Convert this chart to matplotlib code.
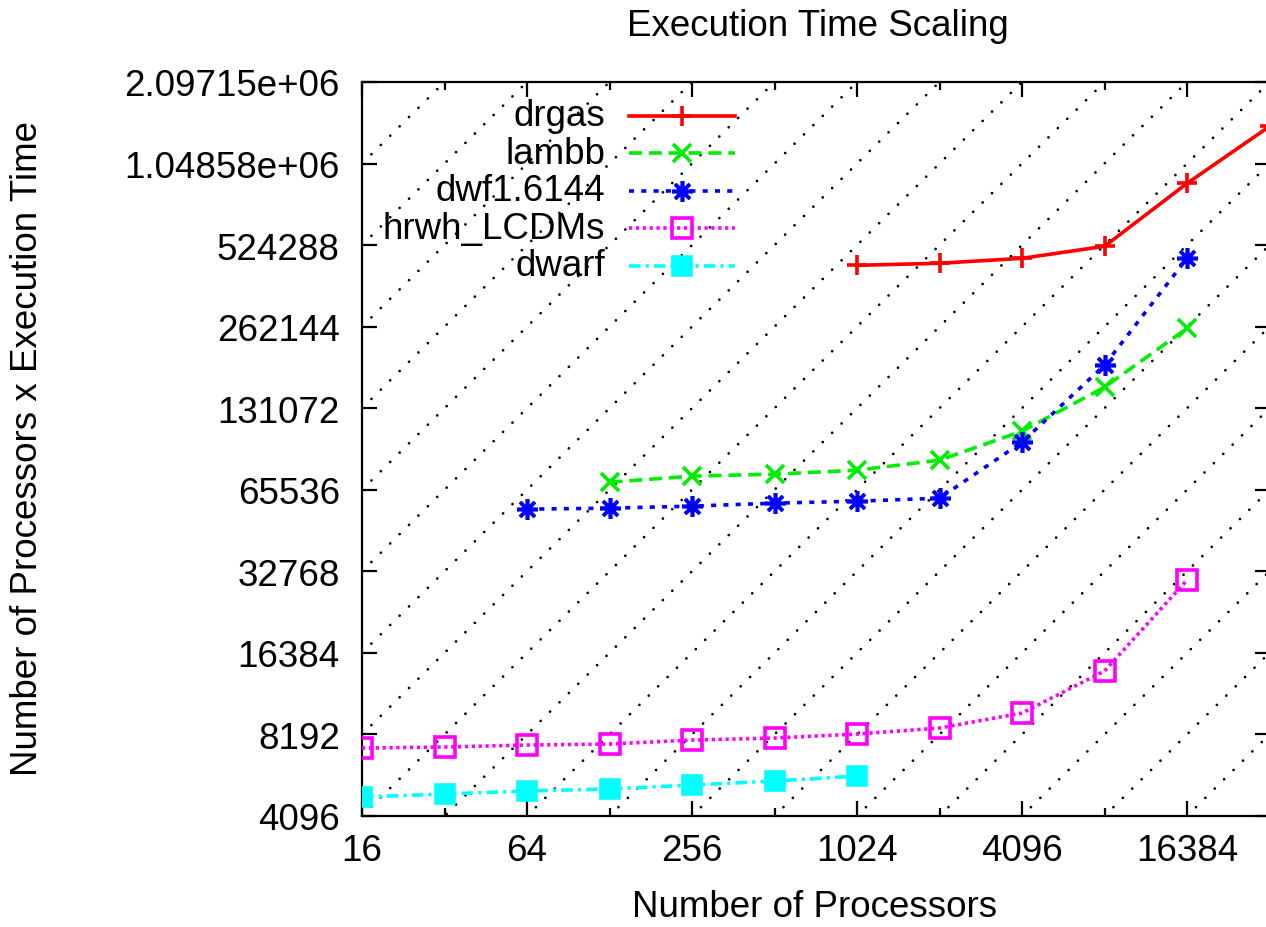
import matplotlib
matplotlib.use("Agg")
import matplotlib.pyplot as plt
from matplotlib.lines import Line2D
from matplotlib.ticker import FixedLocator, FixedFormatter, NullFormatter

plt.rcParams['font.family'] = ['Liberation Sans', 'DejaVu Sans']

# Processor counts and (processors x execution time) per run
drgas_procs = [1024, 2048, 4096, 8192, 16384, 32768]
drgas_cost = [441500, 449300, 468600, 518900, 886000, 1438000]

lambb_procs = [128, 256, 512, 1024, 2048, 4096, 8192, 16384]
lambb_cost = [69900, 73570, 74830, 77400, 84300, 107800, 156700, 258500]

dwf_procs = [64, 128, 256, 512, 1024, 2048, 4096, 8192, 16384]
dwf_cost = [55580, 56070, 57030, 58490, 59480, 61020, 98200, 188900, 468600]

hrwh_procs = [16, 32, 64, 128, 256, 512, 1024, 2048, 4096, 8192, 16384]
hrwh_cost = [7298, 7360, 7487, 7550, 7810, 7946, 8220, 8650, 9826, 14040, 30400]

dwarf_procs = [16, 32, 64, 128, 256, 512, 1024]
dwarf_cost = [4812, 4938, 5067, 5153, 5330, 5514, 5753]

x_major = [16, 64, 256, 1024, 4096, 16384]
x_minor = [32, 128, 512, 2048, 8192, 32768]
y_ticks = [4096, 8192, 16384, 32768, 65536, 131072, 262144, 524288,
           1048576, 2097152]
y_labels = ['4096', '8192', '16384', '32768', '65536', '131072', '262144',
            '524288', '1.04858e+06', '2.09715e+06']

FS = 26.5
LW = 2.6

fig = plt.figure(figsize=(12.66, 9.28), dpi=100)
ax = fig.add_axes([362 / 1266, 1 - 817 / 928, 907.5 / 1266, 734 / 928])
ax.set_xscale('log', base=2)
ax.set_yscale('log', base=2)
ax.set_xlim(16, 32768)
ax.set_ylim(4096, 2097152)

# Reference lines of constant execution time: cost doubles with processors
xs = [16, 32768]
for k in range(-12, 11):
    c = 256 * 2.0 ** k
    ax.plot(xs, [c * v for v in xs], color='black', lw=2.0,
            linestyle=(0, (0.01, 4.75)), dash_capstyle='round', zorder=1)

series = [
    dict(label='drgas', x=drgas_procs, y=drgas_cost, color='#ff0000',
         ls='-', marker='+', ms=14, mfc='none'),
    dict(label='lambb', x=lambb_procs, y=lambb_cost, color='#00ee00',
         ls=(0, (3.6, 1.9)), marker='x', ms=13, mfc='none'),
    dict(label='dwf1.6144', x=dwf_procs, y=dwf_cost, color='#0000ff',
         ls=(0, (1.4, 2.0)), marker=(8, 2, 0), ms=15, mfc='none'),
    dict(label='hrwh_LCDMs', x=hrwh_procs, y=hrwh_cost, color='#ff00ff',
         ls=(0, (0.9, 1.0)), marker='s', ms=14, mfc='none'),
    dict(label='dwarf', x=dwarf_procs, y=dwarf_cost, color='#00ffff',
         ls=(0, (3.2, 1.4, 0.9, 1.4)), marker='s', ms=13, mfc='#00ffff'),
]

for s in series:
    ax.plot(s['x'], s['y'], color=s['color'], lw=LW, linestyle=s['ls'],
            dash_capstyle='butt', marker=s['marker'], ms=s['ms'],
            mfc=s['mfc'], mec=s['color'], mew=LW, zorder=3)

# Key: right-aligned labels with line samples to their right
row0 = 0.9541
step = 0.0511
for i, s in enumerate(series):
    yy = row0 - i * step
    ax.text(0.2678, yy, s['label'], transform=ax.transAxes, ha='right',
            va='center', fontsize=FS, zorder=5)
    ax.add_line(Line2D([0.2941, 0.4110], [yy, yy], transform=ax.transAxes,
                       color=s['color'], lw=LW, linestyle=s['ls'],
                       dash_capstyle='butt', zorder=5))
    ax.add_line(Line2D([0.3526], [yy], transform=ax.transAxes,
                       color=s['color'], linestyle='none', marker=s['marker'],
                       ms=s['ms'], mfc=s['mfc'], mec=s['color'], mew=LW,
                       zorder=5))

ax.xaxis.set_major_locator(FixedLocator(x_major))
ax.xaxis.set_major_formatter(FixedFormatter([str(v) for v in x_major]))
ax.xaxis.set_minor_locator(FixedLocator(x_minor))
ax.xaxis.set_minor_formatter(NullFormatter())
ax.yaxis.set_major_locator(FixedLocator(y_ticks))
ax.yaxis.set_major_formatter(FixedFormatter(y_labels))
ax.yaxis.set_minor_locator(FixedLocator([]))

ax.tick_params(which='both', direction='in', top=True, right=True,
               labelsize=FS, width=1.6, color='black')
ax.tick_params(which='major', length=11)
ax.tick_params(which='minor', length=6)
ax.tick_params(axis='x', which='major', pad=12)
ax.tick_params(axis='y', which='major', pad=16)
for sp in ax.spines.values():
    sp.set_linewidth(1.6)

fig.text(818 / 1266, 1 - 26 / 928, 'Execution Time Scaling', ha='center',
         va='center', fontsize=FS)
fig.text(815 / 1266, 1 - 908 / 928, 'Number of Processors', ha='center',
         va='center', fontsize=FS)
fig.text(28 / 1266, 1 - 448 / 928, 'Number of Processors x Execution Time',
         ha='center', va='center', rotation=90, fontsize=FS)

fig.savefig('out.png', dpi=100)
